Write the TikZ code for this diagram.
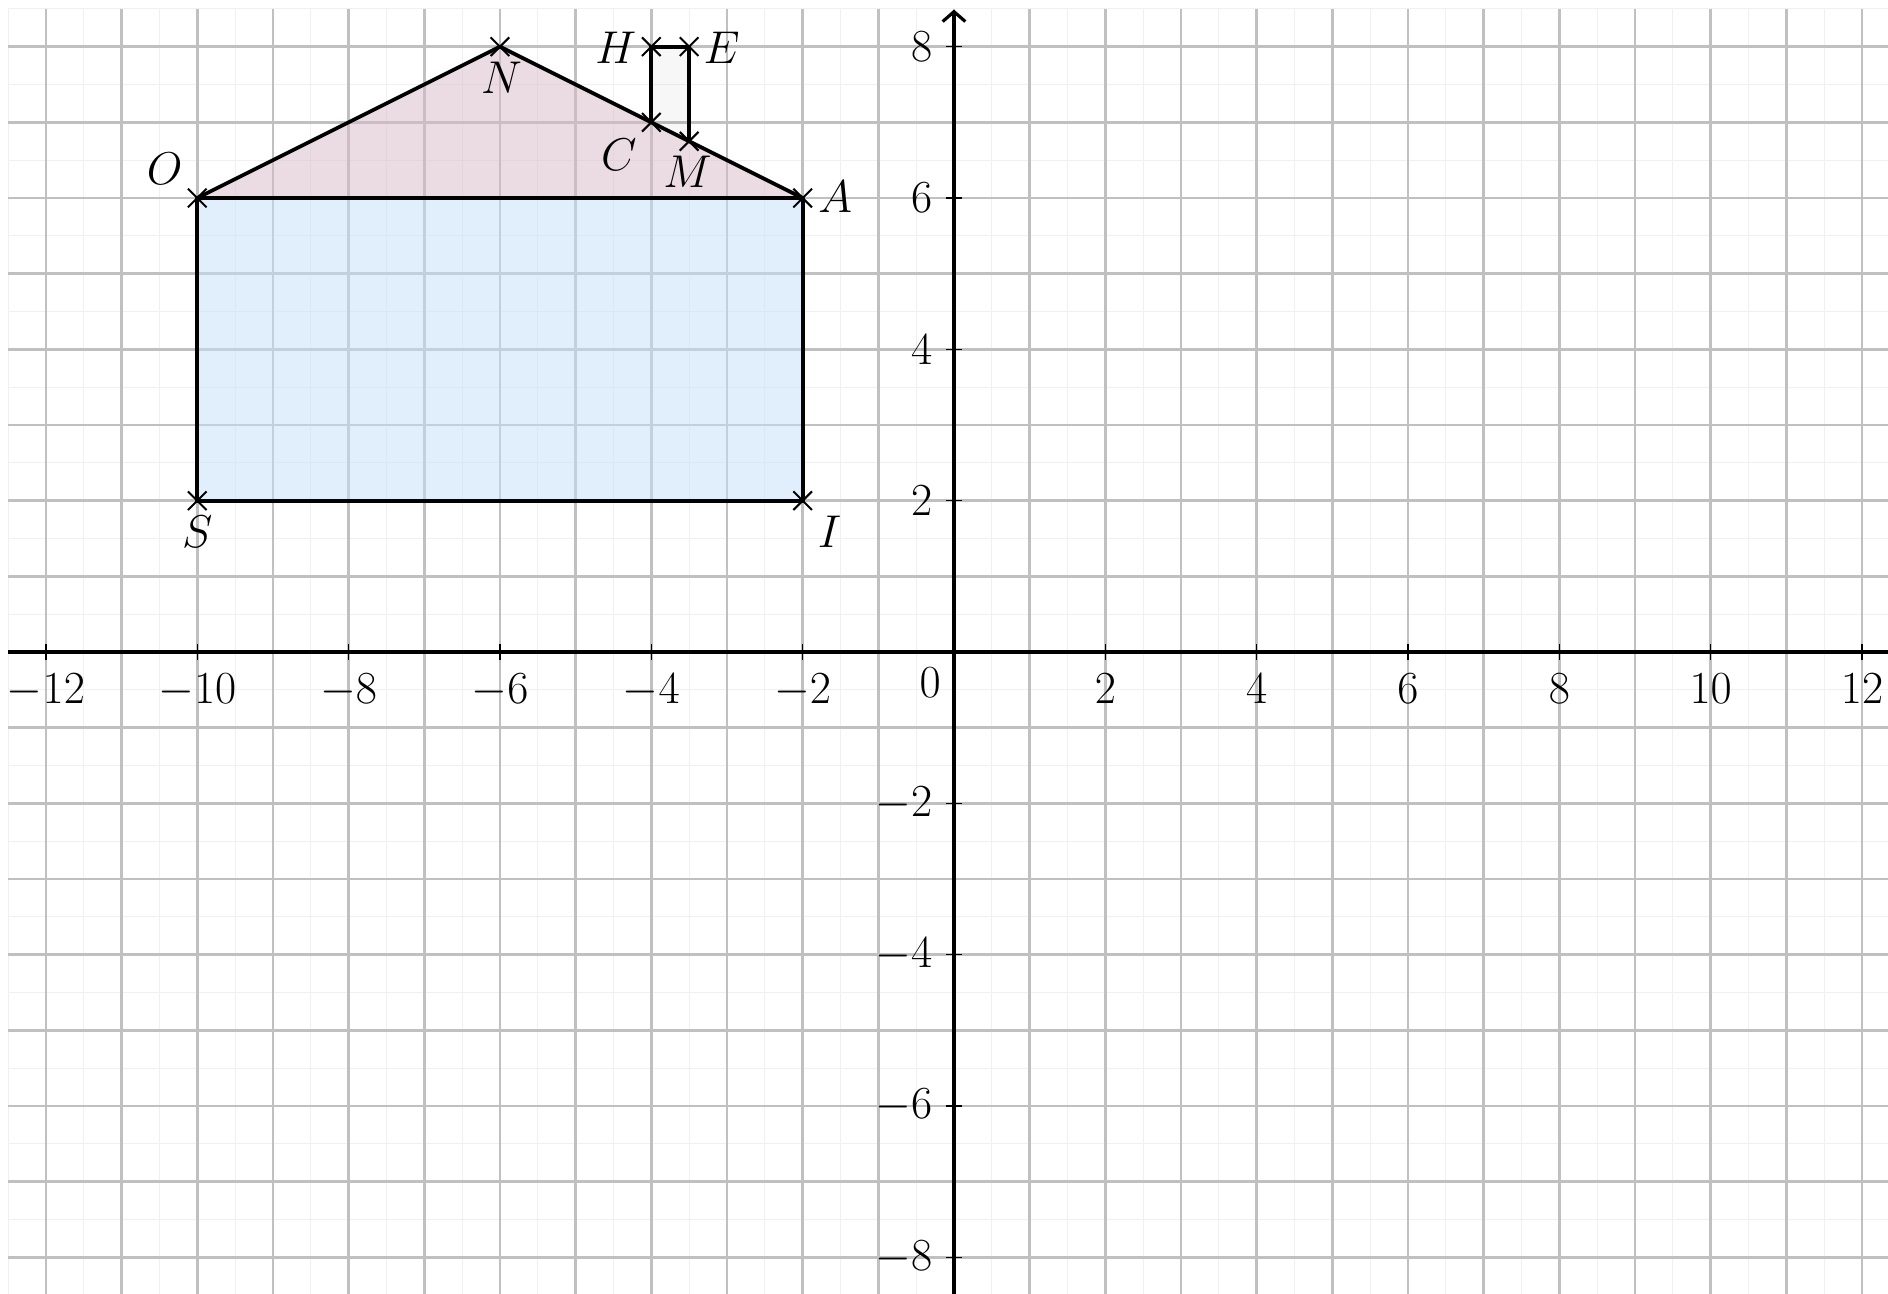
\documentclass[tikz,border=0pt]{standalone}
\usetikzlibrary{arrows.meta,shapes.misc}
\definecolor{majgrid}{RGB}{192,192,192}
\definecolor{mingrid}{RGB}{240,240,240}
\definecolor{wallblue}{RGB}{197,223,249}
\definecolor{roofpink}{RGB}{217,185,199}
\tikzset{
  minorgrid/.style={draw=mingrid,line width=0.4pt},
  majorgrid/.style={draw=majgrid,line width=1pt},
  axisline/.style={black,line width=1.2pt},
  tickmark/.style={black,line width=0.5pt},
  edge/.style={black,line width=1.4pt,line join=round},
  pt/.style={cross out,draw=black,minimum size=0.22cm,inner sep=0pt,line width=0.75pt},
  numlab/.style={inner sep=0pt,font=\fontsize{18}{20}\selectfont},
  ptlab/.style={inner sep=0pt,anchor=center,font=\fontsize{16.5}{18}\selectfont},
}
\begin{document}
\begin{tikzpicture}[x=1cm,y=1cm]
\useasboundingbox (-12.607,-8.471) rectangle (12.343,8.617);
\clip (-12.607,-8.471) rectangle (12.343,8.617);
\fill[white] (-12.607,-8.471) rectangle (12.343,8.617);
% grid
\draw[minorgrid] (-12.5,-8.5) grid[step=0.5] (12.5,8.5);
\draw[majorgrid] (-12.5,-8.5) grid[step=1] (12.5,8.5);
% points
\coordinate (O) at (-10,6);
\coordinate (N) at (-6,8);
\coordinate (A) at (-2,6);
\coordinate (S) at (-10,2);
\coordinate (I) at (-2,2);
\coordinate (H) at (-4,8);
\coordinate (E) at (-3.5,8);
\coordinate (C) at (-4,7);
\coordinate (M) at (-3.5,6.75);
% fills
\fill[wallblue,fill opacity=0.5] (S) -- (I) -- (A) -- (O) -- cycle;
\fill[roofpink,fill opacity=0.5] (O) -- (N) -- (A) -- cycle;
\fill[black,fill opacity=0.03] (C) -- (H) -- (E) -- (M) -- cycle;
% axes
\coordinate (xa) at (-12.5,0);
\coordinate (xb) at (12.8,0);
\coordinate (ya) at (0,-8.6);
\coordinate (yb) at (0,8.49);
\draw[axisline,-{Straight Barb[length=1.3mm,width=3mm]}] (xa) -- (xb);
\draw[axisline,-{Straight Barb[length=1.3mm,width=3mm]}] (ya) -- (yb);
\foreach \x in {-12,-10,-8,-6,-4,-2,2,4,6,8,10,12}{
  \draw[tickmark] (\x,-0.1) -- (\x,0.1);
  \node[numlab,anchor=north] (xl\x) at (\x,-0.28) {$\x$};
}
\foreach \y in {-8,-6,-4,-2,2,4,6,8}{
  \draw[tickmark] (-0.1,\y) -- (0.1,\y);
  \node[numlab,anchor=east] (yl\y) at (-0.28,\y) {$\y$};
}
\node[numlab,anchor=north east] (zero) at (-0.17,-0.2) {$0$};
% polygons
\draw[edge] (S) -- (I) -- (A) -- (O) -- cycle;
\draw[edge] (O) -- (N) -- (A);
\draw[edge] (C) -- (H) -- (E) -- (M);
% crosses
\foreach \p in {O,N,A,S,I,H,E,C,M}{
  \node[pt] (x\p) at (\p) {};
}
% labels
\node[ptlab] (lO) at (-10.43,6.39) {$O$};
\node[ptlab] (lN) at (-5.98,7.59) {$N$};
\node[ptlab] (lA) at (-1.57,6.01) {$A$};
\node[ptlab] (lS) at (-10.0,1.59) {$S$};
\node[ptlab] (lI) at (-1.645,1.59) {$I$};
\node[ptlab] (lH) at (-4.47,7.98) {$H$};
\node[ptlab] (lE) at (-3.07,7.98) {$E$};
\node[ptlab] (lC) at (-4.43,6.57) {$C$};
\node[ptlab] (lM) at (-3.52,6.34) {$M$};
\end{tikzpicture}
\end{document}
